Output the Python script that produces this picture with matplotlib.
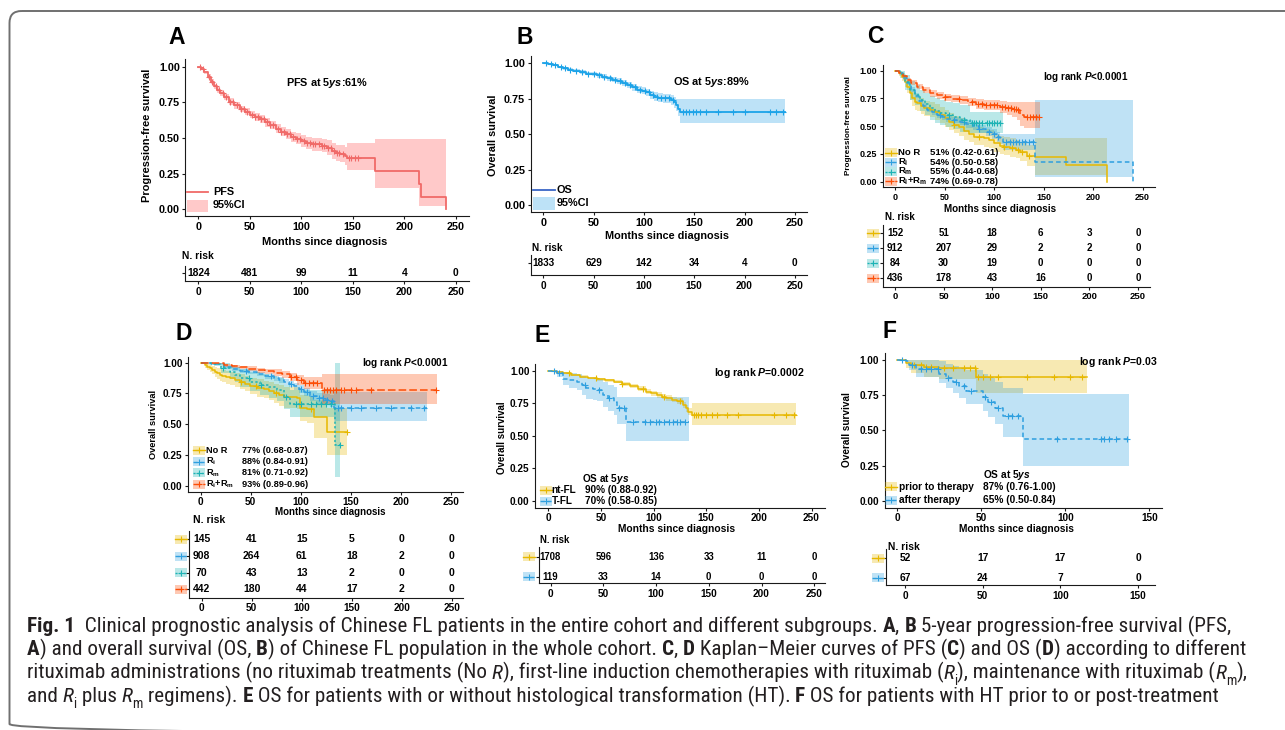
import numpy as np
import matplotlib
matplotlib.use('Agg')
import matplotlib.pyplot as plt
import matplotlib.transforms as mtransforms
from matplotlib import font_manager
from matplotlib.patches import Rectangle, FancyBboxPatch
from matplotlib.lines import Line2D

plt.rcParams['font.family'] = ['Liberation Sans', 'DejaVu Sans']
plt.rcParams['font.weight'] = 'bold'
plt.rcParams['mathtext.fontset'] = 'custom'
plt.rcParams['mathtext.rm'] = 'Liberation Sans:bold'
plt.rcParams['mathtext.it'] = 'Liberation Sans:italic:bold'
plt.rcParams['mathtext.bf'] = 'Liberation Sans:bold'

# ── data ──────────────────────────────────────────────────────────────────────

Y_TICKS = [0.0, 0.25, 0.5, 0.75, 1.0]

# A: PFS, whole cohort
A_t = [0, 3, 6, 9, 12, 15, 18, 21, 25, 30, 35, 40, 45, 50, 55, 60, 65, 70, 75, 80,
       85, 90, 95, 100, 105, 110, 115, 120, 125, 130, 134, 138, 142, 144, 172, 214, 216, 240]
A_s = [1.000, 0.985, 0.960, 0.930, 0.895, 0.862, 0.835, 0.812, 0.785, 0.755, 0.728, 0.703,
       0.683, 0.664, 0.648, 0.630, 0.610, 0.590, 0.565, 0.545, 0.525, 0.508, 0.495, 0.480,
       0.462, 0.455, 0.455, 0.447, 0.432, 0.410, 0.393, 0.390, 0.375, 0.357, 0.265, 0.178,
       0.089, 0.000]
A_hi = [1.000, 0.992, 0.972, 0.945, 0.912, 0.880, 0.855, 0.832, 0.806, 0.777, 0.751, 0.727,
        0.708, 0.690, 0.675, 0.658, 0.640, 0.620, 0.597, 0.578, 0.560, 0.545, 0.533, 0.520,
        0.505, 0.500, 0.500, 0.495, 0.483, 0.465, 0.452, 0.452, 0.440, 0.463, 0.493, 0.493,
        0.493, 0.493]
A_lo = [1.000, 0.978, 0.948, 0.915, 0.878, 0.844, 0.815, 0.792, 0.764, 0.733, 0.705, 0.679,
        0.658, 0.638, 0.621, 0.602, 0.580, 0.560, 0.533, 0.512, 0.490, 0.471, 0.457, 0.440,
        0.420, 0.410, 0.410, 0.400, 0.380, 0.355, 0.335, 0.330, 0.310, 0.276, 0.147, 0.020,
        0.020, 0.020]
A_cens = [2, 5, 10, 13, 17, 20, 24, 27, 31, 34, 38, 41, 44, 47, 52, 55, 58, 61, 64, 67, 70,
          73, 77, 80, 83, 86, 89, 92, 96, 99, 103, 106, 108, 111, 113, 117, 120, 122, 126,
          129, 132, 135, 137, 140, 146, 148, 152, 155]
A_risk = [1824, 481, 99, 11, 4, 0]

# B: OS, whole cohort
B_t = [0, 5, 10, 15, 20, 25, 30, 36, 42, 48, 53, 58, 63, 68, 73, 78, 83, 88, 93, 98, 102,
       106, 110, 114, 119, 124, 127, 130, 132, 134, 136, 240]
B_s = [1.000, 0.995, 0.985, 0.975, 0.965, 0.955, 0.948, 0.938, 0.928, 0.922, 0.914, 0.905,
       0.895, 0.885, 0.873, 0.862, 0.848, 0.830, 0.815, 0.808, 0.795, 0.778, 0.765, 0.758,
       0.752, 0.752, 0.742, 0.725, 0.705, 0.680, 0.655, 0.655]
B_hi = [1.000, 1.000, 0.992, 0.984, 0.975, 0.966, 0.960, 0.951, 0.942, 0.937, 0.930, 0.922,
        0.913, 0.904, 0.893, 0.883, 0.870, 0.853, 0.840, 0.834, 0.822, 0.806, 0.795, 0.788,
        0.784, 0.786, 0.778, 0.762, 0.746, 0.746, 0.746, 0.746]
B_lo = [1.000, 0.990, 0.978, 0.966, 0.955, 0.944, 0.936, 0.925, 0.914, 0.907, 0.898, 0.888,
        0.877, 0.866, 0.853, 0.841, 0.826, 0.807, 0.790, 0.782, 0.768, 0.750, 0.735, 0.728,
        0.720, 0.718, 0.706, 0.688, 0.665, 0.630, 0.576, 0.576]
B_cens = [3, 8, 12, 18, 22, 27, 33, 38, 44, 50, 55, 60, 66, 71, 76, 81, 86, 91, 96, 101, 105,
          109, 113, 117, 121, 125, 129, 139, 142, 145, 149, 152, 156, 162, 174, 189, 200,
          225, 231, 238]
B_risk = [1833, 629, 142, 34, 4, 0]

# C: PFS by rituximab administration
C_nor_t = [0, 4, 7, 10, 12, 15, 17, 20, 22, 26, 29, 35, 40, 45, 50, 55, 60, 65, 70, 75, 80,
           90, 95, 100, 106, 110, 116, 122, 126, 133, 141, 173, 214]
C_nor_s = [1.0, 0.975, 0.946, 0.90, 0.856, 0.80, 0.75, 0.72, 0.706, 0.68, 0.66, 0.65, 0.625,
           0.60, 0.57, 0.54, 0.515, 0.49, 0.455, 0.43, 0.405, 0.39, 0.38, 0.345, 0.325, 0.315,
           0.30, 0.29, 0.27, 0.23, 0.225, 0.15, 0.0]
C_nor_hi = [1.0, 1.0, 0.98, 0.95, 0.91, 0.86, 0.82, 0.79, 0.775, 0.75, 0.73, 0.72, 0.70,
            0.675, 0.65, 0.62, 0.595, 0.57, 0.54, 0.515, 0.49, 0.475, 0.465, 0.43, 0.41, 0.40,
            0.39, 0.38, 0.36, 0.33, 0.39, 0.39, 0.39]
C_nor_lo = [1.0, 0.95, 0.91, 0.85, 0.80, 0.74, 0.68, 0.65, 0.635, 0.61, 0.59, 0.58, 0.555,
            0.525, 0.495, 0.465, 0.44, 0.415, 0.38, 0.355, 0.33, 0.315, 0.30, 0.27, 0.25, 0.24,
            0.225, 0.21, 0.19, 0.14, 0.06, 0.06, 0.06]
C_nor_cens = [60, 85, 110, 118, 124, 128, 135]

C_ri_t = [0, 4, 8, 12, 16, 20, 24, 28, 32, 37, 42, 47, 52, 58, 66, 72, 79, 85, 92, 98, 103,
          106, 109, 141, 240]
C_ri_s = [1.0, 0.975, 0.935, 0.886, 0.83, 0.775, 0.725, 0.685, 0.65, 0.625, 0.60, 0.585,
          0.567, 0.555, 0.54, 0.52, 0.50, 0.475, 0.45, 0.43, 0.405, 0.385, 0.36, 0.18, 0.0]
C_ri_hi = [1.0, 0.985, 0.95, 0.905, 0.85, 0.797, 0.748, 0.71, 0.675, 0.65, 0.627, 0.612,
           0.595, 0.584, 0.57, 0.552, 0.535, 0.512, 0.49, 0.473, 0.45, 0.432, 0.43, 0.736, 0.736]
C_ri_lo = [1.0, 0.965, 0.92, 0.868, 0.81, 0.753, 0.702, 0.66, 0.625, 0.60, 0.573, 0.558,
           0.539, 0.526, 0.51, 0.488, 0.465, 0.438, 0.41, 0.387, 0.36, 0.338, 0.29, 0.045, 0.045]
C_ri_cens = [45, 60, 70, 85, 95, 100, 104, 112, 116, 119, 122, 125, 128, 131, 135, 139]

C_rm_t = [0, 5, 10, 15, 20, 25, 30, 35, 40, 45, 52, 59, 66, 76, 109]
C_rm_s = [1.0, 0.97, 0.9, 0.826, 0.78, 0.736, 0.70, 0.66, 0.635, 0.616, 0.60, 0.586, 0.56,
          0.526, 0.526]
C_rm_hi = [1.0, 1.0, 0.96, 0.91, 0.87, 0.83, 0.80, 0.77, 0.75, 0.735, 0.72, 0.71, 0.69, 0.63, 0.63]
C_rm_lo = [1.0, 0.93, 0.83, 0.74, 0.69, 0.64, 0.60, 0.56, 0.53, 0.51, 0.49, 0.475, 0.45,
           0.435, 0.435]
C_rm_cens = [55, 70, 78, 80, 82, 85, 88, 93, 95, 98, 100, 103, 106]

C_rr_t = [0, 4, 8, 12, 16, 22, 28, 35, 42, 49, 57, 66, 74, 82, 90, 99, 106, 113, 118, 123,
          126, 130, 146]
C_rr_s = [1.0, 0.98, 0.95, 0.916, 0.89, 0.856, 0.823, 0.796, 0.777, 0.76, 0.748, 0.736, 0.72,
          0.70, 0.695, 0.69, 0.675, 0.66, 0.652, 0.645, 0.60, 0.586, 0.586]
C_rr_hi = [1.0, 0.99, 0.965, 0.935, 0.912, 0.88, 0.85, 0.825, 0.807, 0.792, 0.782, 0.772,
           0.758, 0.742, 0.74, 0.738, 0.728, 0.72, 0.72, 0.72, 0.72, 0.72, 0.72]
C_rr_lo = [1.0, 0.97, 0.935, 0.897, 0.868, 0.832, 0.796, 0.767, 0.747, 0.728, 0.714, 0.70,
           0.682, 0.658, 0.65, 0.642, 0.622, 0.60, 0.58, 0.56, 0.50, 0.48, 0.48]
C_rr_cens = [50, 65, 78, 84, 88, 92, 96, 100, 103, 108, 111, 114, 117, 120, 122, 124, 133,
             136, 139, 142, 145]

C_labels = ['No R', 'R$_{\\rm i}$', 'R$_{\\rm m}$', 'R$_{\\rm i}$+R$_{\\rm m}$']
C_pct = ['51% (0.42-0.61)', '54% (0.50-0.58)', '55% (0.44-0.68)', '74% (0.69-0.78)']
C_risk = [[152, 51, 18, 6, 3, 0],
          [912, 207, 29, 2, 2, 0],
          [84, 30, 19, 0, 0, 0],
          [436, 178, 43, 16, 0, 0]]

# D: OS by rituximab administration
D_nor_t = [0, 4, 6, 9, 11, 14, 16, 19, 21, 25, 29, 34, 39, 44, 49, 56, 63, 68, 73, 78, 83,
           96, 99, 106, 113, 126, 146]
D_nor_s = [1.0, 0.985, 0.967, 0.955, 0.94, 0.925, 0.913, 0.90, 0.89, 0.88, 0.873, 0.86, 0.846,
           0.83, 0.81, 0.795, 0.783, 0.77, 0.75, 0.735, 0.718, 0.71, 0.63, 0.62, 0.555, 0.44, 0.44]
D_nor_hi = [1.0, 1.0, 0.99, 0.985, 0.975, 0.965, 0.955, 0.945, 0.94, 0.932, 0.926, 0.915,
            0.905, 0.893, 0.877, 0.865, 0.855, 0.845, 0.83, 0.818, 0.805, 0.80, 0.74, 0.73,
            0.70, 0.63, 0.63]
D_nor_lo = [1.0, 0.96, 0.94, 0.925, 0.905, 0.885, 0.87, 0.855, 0.84, 0.83, 0.82, 0.805,
            0.787, 0.77, 0.745, 0.725, 0.71, 0.695, 0.67, 0.65, 0.63, 0.62, 0.53, 0.51, 0.39,
            0.25, 0.25]
D_nor_cens = [40, 55, 75, 110, 146]

D_ri_t = [0, 10, 23, 31, 39, 47, 56, 64, 73, 78, 83, 88, 93, 98, 103, 109, 116, 123, 129, 133, 226]
D_ri_s = [1.0, 0.99, 0.962, 0.948, 0.935, 0.922, 0.908, 0.89, 0.873, 0.86, 0.846, 0.83, 0.81,
          0.787, 0.764, 0.729, 0.71, 0.70, 0.69, 0.63, 0.63]
D_ri_hi = [1.0, 1.0, 0.975, 0.962, 0.95, 0.938, 0.925, 0.91, 0.893, 0.882, 0.87, 0.855, 0.838,
           0.817, 0.797, 0.766, 0.752, 0.745, 0.74, 0.76, 0.76]
D_ri_lo = [1.0, 0.98, 0.948, 0.933, 0.919, 0.905, 0.89, 0.87, 0.851, 0.837, 0.821, 0.804,
           0.782, 0.757, 0.731, 0.69, 0.668, 0.655, 0.64, 0.525, 0.525]
D_ri_cens = [45, 70, 90, 100, 106, 112, 118, 122, 126, 131, 137, 140, 150, 160, 175, 190, 210, 223]

D_rm_t = [0, 13, 20, 29, 34, 39, 49, 59, 68, 76, 83, 89, 134, 139]
D_rm_s = [1.0, 0.99, 0.96, 0.927, 0.9, 0.873, 0.846, 0.818, 0.8, 0.778, 0.718, 0.664, 0.33, 0.33]
D_rm_hi = [1.0, 1.0, 1.0, 0.98, 0.965, 0.945, 0.925, 0.905, 0.89, 0.875, 0.82, 0.78, 1.0, 1.0]
D_rm_lo = [1.0, 0.97, 0.92, 0.87, 0.84, 0.80, 0.77, 0.735, 0.71, 0.685, 0.62, 0.56, 0.07, 0.07]
D_rm_cens = [22, 48, 60, 85, 95, 100, 110, 115, 120, 125, 130, 139]

D_rr_t = [0, 10, 23, 31, 39, 47, 56, 64, 73, 81, 89, 96, 103, 121, 236]
D_rr_s = [1.0, 0.995, 0.98, 0.97, 0.962, 0.952, 0.94, 0.93, 0.92, 0.905, 0.886, 0.86, 0.837,
          0.778, 0.778]
D_rr_hi = [1.0, 1.0, 0.99, 0.983, 0.977, 0.97, 0.96, 0.952, 0.945, 0.935, 0.92, 0.90, 0.885,
           0.91, 0.91]
D_rr_lo = [1.0, 0.99, 0.968, 0.955, 0.945, 0.932, 0.918, 0.905, 0.893, 0.874, 0.85, 0.818,
           0.788, 0.665, 0.665]
D_rr_cens = [90, 95, 100, 104, 108, 112, 116, 123, 126, 129, 132, 135, 140, 143, 150, 155, 170, 235]

D_pct = ['77% (0.68-0.87)', '88% (0.84-0.91)', '81% (0.71-0.92)', '93% (0.89-0.96)']
D_risk = [[145, 41, 15, 5, 0, 0],
          [908, 264, 61, 18, 2, 0],
          [70, 43, 13, 2, 0, 0],
          [442, 180, 44, 17, 2, 0]]

# E: OS with / without histological transformation
E_nt_t = [0, 7, 14, 22, 30, 38, 46, 54, 62, 70, 78, 85, 93, 98, 103, 108, 112, 117, 122, 128,
          131, 133, 136, 235]
E_nt_s = [1.0, 0.99, 0.98, 0.968, 0.954, 0.944, 0.934, 0.925, 0.916, 0.90, 0.882, 0.862, 0.839,
          0.826, 0.813, 0.80, 0.788, 0.778, 0.77, 0.737, 0.71, 0.685, 0.66, 0.66]
E_nt_hi = [1.0, 0.995, 0.988, 0.977, 0.964, 0.955, 0.946, 0.938, 0.93, 0.915, 0.898, 0.879,
           0.857, 0.845, 0.833, 0.821, 0.81, 0.80, 0.793, 0.762, 0.737, 0.713, 0.755, 0.755]
E_nt_lo = [1.0, 0.985, 0.972, 0.959, 0.944, 0.933, 0.922, 0.912, 0.902, 0.885, 0.866, 0.845,
           0.821, 0.807, 0.793, 0.779, 0.766, 0.756, 0.747, 0.712, 0.683, 0.657, 0.58, 0.58]
E_nt_cens = [20, 45, 70, 90, 110, 125, 138, 140, 142, 145, 150, 155, 160, 170, 180, 214, 226, 233]

E_tf_t = [0, 8, 14, 20, 27, 32, 36, 42, 46, 52, 57, 62, 65, 74, 134]
E_tf_s = [1.0, 0.98, 0.94, 0.93, 0.916, 0.89, 0.864, 0.86, 0.852, 0.813, 0.79, 0.762, 0.71,
          0.609, 0.609]
E_tf_hi = [1.0, 1.0, 0.99, 0.985, 0.975, 0.96, 0.945, 0.94, 0.935, 0.91, 0.89, 0.875, 0.80,
           0.80, 0.80]
E_tf_lo = [1.0, 0.95, 0.89, 0.87, 0.85, 0.815, 0.78, 0.775, 0.765, 0.72, 0.69, 0.66, 0.59,
           0.46, 0.46]
E_tf_cens = [5, 10, 35, 48, 58, 67, 72, 80, 92, 97, 102, 105, 110, 115, 118, 122, 125, 130]

E_labels = ['nt-FL', 'T-FL']
E_pct = ['90% (0.88-0.92)', '70% (0.58-0.85)']
E_risk = [[1708, 596, 136, 33, 11, 0],
          [119, 33, 14, 0, 0, 0]]

# F: OS for HT prior to / after therapy
F_pr_t = [0, 5, 8, 16, 25, 47, 113]
F_pr_s = [1.0, 0.98, 0.962, 0.95, 0.94, 0.88, 0.88]
F_pr_hi = [1.0, 1.0, 1.0, 1.0, 1.0, 1.0, 1.0]
F_pr_lo = [1.0, 0.94, 0.91, 0.88, 0.865, 0.765, 0.765]
F_pr_cens = [10, 14, 17, 20, 28, 33, 40, 43, 46, 48, 51, 55, 60, 77, 93, 103, 110]

F_af_t = [0, 5, 7, 11, 25, 29, 33, 37, 41, 51, 54, 58, 63, 75, 138]
F_af_s = [1.0, 0.99, 0.965, 0.934, 0.90, 0.87, 0.846, 0.815, 0.78, 0.74, 0.70, 0.656, 0.60,
          0.436, 0.436]
F_af_hi = [1.0, 1.0, 1.0, 1.0, 0.99, 0.975, 0.96, 0.945, 0.93, 0.90, 0.875, 0.845, 0.80,
           0.755, 0.755]
F_af_lo = [1.0, 0.97, 0.93, 0.88, 0.84, 0.80, 0.765, 0.73, 0.69, 0.64, 0.595, 0.545, 0.455,
           0.25, 0.25]
F_af_cens = [3, 9, 14, 17, 20, 24, 30, 35, 40, 44, 52, 56, 60, 66, 68, 72, 95, 121, 123, 126,
             130, 137]

F_labels = ['prior to therapy', 'after therapy']
F_pct = ['87% (0.76-1.00)', '65% (0.50-0.84)']
F_risk = [[52, 17, 17, 0],
          [67, 24, 7, 0]]

# ── style ─────────────────────────────────────────────────────────────────────

GOLD, BLUE, TEAL, ORANGE = '#E7B800', '#2E9FDF', '#1DB3B5', '#FC4E07'
PFS_RED, PFS_FILL = '#F06A68', '#FFC9C9'
OS_BLUE, OS_FILL, OS_KEY = '#1CA3E8', '#BDE2F7', '#3A66C6'
LS = ['-', (0, (3, 2)), (0, (1.5, 1.5)), (0, (5, 2))]
INK = '#1a1a1a'
CAP_COLOR = '#231F20'

W, H = 1285, 730
fig = plt.figure(figsize=(W / 100, H / 100), dpi=100)
# pixel coords, origin at the top-left corner
px = mtransforms.Affine2D().scale(1 / W, -1 / H).translate(0, 1) + fig.transFigure


def add_ax(left, right, top, bottom):
    return fig.add_axes([left / W, 1 - bottom / H, (right - left) / W, (bottom - top) / H])


def style_axes(ax, fs):
    for side in ('top', 'right'):
        ax.spines[side].set_visible(False)
    for side in ('left', 'bottom'):
        ax.spines[side].set_linewidth(0.8)
        ax.spines[side].set_color(INK)
    ax.tick_params(length=2.5, width=0.8, pad=1.5, labelsize=fs, color=INK)
    ax.patch.set_alpha(0)


def km_axes(px0, sx, py0, sy, rng, fs):
    ax = add_ax(px0 - 0.05 * rng * sx, px0 + 1.05 * rng * sx, py0 - 1.05 * sy, py0 + 0.05 * sy)
    ax.set_xlim(-0.05 * rng, 1.05 * rng)
    ax.set_ylim(-0.05, 1.05)
    ax.set_xticks(np.arange(0, rng + 1, 50))
    ax.set_yticks(Y_TICKS)
    ax.set_yticklabels([f'{v:.2f}' for v in Y_TICKS])
    style_axes(ax, fs)
    return ax


def draw_curve(ax, t, s, lo, hi, cens, color, ls, fill=None, alpha=0.3, lw=1.1):
    t, s = np.asarray(t, float), np.asarray(s, float)
    if fill is None:
        ax.fill_between(t, lo, hi, step='post', color=color, alpha=alpha, lw=0)
    else:
        ax.fill_between(t, lo, hi, step='post', color=fill, lw=0)
    ax.step(t, s, where='post', color=color, lw=lw, ls=ls)
    idx = np.searchsorted(t, cens, side='right') - 1
    ax.plot(cens, s[idx], ls='none', marker='+', ms=4, mew=0.8, color=color)


def draw_key(x, y, color, ls, w=12, h=9):
    fig.add_artist(Rectangle((x, y - h / 2), w, h, transform=px, facecolor=color,
                             alpha=0.3, lw=0))
    fig.add_artist(Line2D([x, x + w], [y, y], transform=px, color=color, lw=1, ls=ls))
    fig.add_artist(Line2D([x + w / 2], [y], transform=px, color=color, marker='+',
                          ms=4, mew=0.8))


def ptext(x, y, s, fs, ha='left', va='center', **kw):
    return fig.text(x, y, s, transform=px, fontsize=fs, ha=ha, va=va, **kw)


def axis_labels(xc, yc, xlab, xfs, ylx, yly, ylab, yfs):
    ptext(xc, yc, xlab, xfs, ha='center')
    ptext(ylx, yly, ylab, yfs, ha='center', rotation=90)


def risk_table(left, right, top, bottom, px0, sx, row0, drow, rng, rows, fs,
               title_xy, keys=None, key_x=None, tick_fs=None):
    ax = add_ax(left, right, top, bottom)
    ax.set_xlim((left - px0) / sx, (right - px0) / sx)
    ax.set_ylim((bottom - row0) / drow, (top - row0) / drow)
    ticks = np.arange(0, rng + 1, 50)
    ax.set_xticks(ticks)
    ax.set_yticks(range(len(rows)))
    ax.set_yticklabels([])
    style_axes(ax, tick_fs or fs)
    for i, vals in enumerate(rows):
        for t, v in zip(ticks, vals):
            ax.text(t, i, str(v), ha='center', va='center', fontsize=fs)
    ptext(title_xy[0], title_xy[1], 'N. risk', fs)
    if keys:
        for i, (c, ls) in enumerate(keys):
            draw_key(key_x, row0 + i * drow, c, ls)
    return ax


def legend_rows(x_key, x_lab, x_pct, y0, dy, labels, pcts, keys, fs):
    for i, (lab, pct, (c, ls)) in enumerate(zip(labels, pcts, keys)):
        y = y0 + i * dy
        draw_key(x_key, y, c, ls)
        ptext(x_lab, y, lab, fs)
        ptext(x_pct, y, pct, fs)


# ── frame ─────────────────────────────────────────────────────────────────────

fig.add_artist(FancyBboxPatch((9.5, 11), 1340, 725, transform=px,
                              boxstyle='round,pad=0,rounding_size=12',
                              facecolor='none', edgecolor='#707070', lw=1.4))

# ── A ─────────────────────────────────────────────────────────────────────────

axA = km_axes(198.3, 1.03, 209.3, 142.7, 250, 7.8)
draw_curve(axA, A_t, A_s, A_lo, A_hi, A_cens, PFS_RED, '-', fill=PFS_FILL, lw=1.3)
ptext(177, 38, 'A', 16.5, ha='center')
ptext(326.7, 83.3, 'PFS at 5$\\mathit{ys}$:61%', 7.8, ha='center')
fig.add_artist(Line2D([187, 208], [191.7, 191.7], transform=px, color=PFS_RED, lw=1.3))
fig.add_artist(Rectangle((187, 199.5), 21, 12, transform=px, facecolor=PFS_FILL, lw=0))
ptext(213, 191.7, 'PFS', 7.8)
ptext(213, 205, '95%CI', 7.8)
axis_labels(325, 241.7, 'Months since diagnosis', 7.9, 147.3, 135,
            'Progression-free survival', 7.9)
risk_table(185, 468.7, 266, 281, 198.3, 1.03, 272.7, 15, 250, [A_risk], 7.4, (181.7, 256))

# ── B ─────────────────────────────────────────────────────────────────────────

axB = km_axes(543.3, 1.006, 205, 141.7, 250, 7.8)
draw_curve(axB, B_t, B_s, B_lo, B_hi, B_cens, OS_BLUE, '-', fill=OS_FILL, lw=1.3)
ptext(525, 38, 'B', 16.5, ha='center')
ptext(711.7, 81.7, 'OS at 5$\\mathit{ys}$:89%', 7.8, ha='center')
fig.add_artist(Line2D([533, 555], [190, 190], transform=px, color=OS_KEY, lw=1.3))
fig.add_artist(Rectangle((533, 197), 22, 13, transform=px, facecolor=OS_FILL, lw=0))
ptext(556.7, 190, 'OS', 7.8)
ptext(556.7, 203.3, '95%CI', 7.8)
axis_labels(666.7, 236, 'Months since diagnosis', 7.8, 493.3, 135, 'Overall survival', 7.8)
risk_table(530.7, 807.4, 255, 275, 543.3, 1.006, 262.7, 20, 250, [B_risk], 7.2, (531.7, 247.7))

# ── C ─────────────────────────────────────────────────────────────────────────

keys4 = list(zip([GOLD, BLUE, TEAL, ORANGE], LS))
axC = km_axes(895, 0.99, 181.7, 111, 250, 6.5)
C_groups = [(C_nor_t, C_nor_s, C_nor_lo, C_nor_hi, C_nor_cens),
            (C_ri_t, C_ri_s, C_ri_lo, C_ri_hi, C_ri_cens),
            (C_rm_t, C_rm_s, C_rm_lo, C_rm_hi, C_rm_cens),
            (C_rr_t, C_rr_s, C_rr_lo, C_rr_hi, C_rr_cens)]
for (t, s, lo, hi, ce), (c, ls) in zip(C_groups, keys4):
    draw_curve(axC, t, s, lo, hi, ce, c, ls)
ptext(875, 36.7, 'C', 16.5, ha='center')
ptext(1128, 76.7, 'log rank $\\mathit{P}$<0.0001', 7.1, ha='right')
legend_rows(885, 898.5, 930, 152.5, 9.6, C_labels, C_pct, keys4, 6.8)
axis_labels(1000, 209.3, 'Months since diagnosis', 7.1, 848.3, 126,
            'Progression-free survival', 5.9)
risk_table(882.7, 1150, 225, 286.7, 895, 0.972, 233.3, 15, 250, C_risk, 7.0, (885, 216.7),
           keys=keys4, key_x=866.5, tick_fs=6.8)

# ── D ─────────────────────────────────────────────────────────────────────────

axD = km_axes(200.7, 1.0, 485.7, 123, 250, 7.2)
D_groups = [(D_nor_t, D_nor_s, D_nor_lo, D_nor_hi, D_nor_cens),
            (D_ri_t, D_ri_s, D_ri_lo, D_ri_hi, D_ri_cens),
            (D_rm_t, D_rm_s, D_rm_lo, D_rm_hi, D_rm_cens),
            (D_rr_t, D_rr_s, D_rr_lo, D_rr_hi, D_rr_cens)]
for (t, s, lo, hi, ce), (c, ls) in zip(D_groups, keys4):
    draw_curve(axD, t, s, lo, hi, ce, c, ls)
ptext(183.3, 333.3, 'D', 16.5, ha='center')
ptext(448.3, 362.7, 'log rank $\\mathit{P}$<0.0001', 7.2, ha='right')
legend_rows(192.5, 206, 241.7, 450.3, 11.3, C_labels, D_pct, keys4, 6.6)
axis_labels(330, 511.7, 'Months since diagnosis', 7.0, 154, 424, 'Overall survival', 6.7)
risk_table(189.3, 463.2, 531, 597.6, 201.7, 1.0, 539.3, 16.7, 250, D_risk, 7.5, (193.3, 520),
           keys=keys4, key_x=175, tick_fs=7.2)

# ── E ─────────────────────────────────────────────────────────────────────────

keys2 = [(GOLD, LS[0]), (BLUE, LS[1])]
axE = km_axes(548.3, 1.053, 501, 130.3, 250, 7.2)
draw_curve(axE, E_nt_t, E_nt_s, E_nt_lo, E_nt_hi, E_nt_cens, GOLD, LS[0])
draw_curve(axE, E_tf_t, E_tf_s, E_tf_lo, E_tf_hi, E_tf_cens, BLUE, LS[1])
ptext(541.7, 335, 'E', 16.5, ha='center')
ptext(805, 372.7, 'log rank $\\mathit{P}$=0.0002', 7.6, ha='right')
ptext(581.7, 479.3, 'OS at 5$\\mathit{ys}$', 7.2)
legend_rows(539.5, 551.7, 585, 490.3, 11, E_labels, E_pct, keys2, 7.2)
axis_labels(676.7, 529, 'Months since diagnosis', 7.4, 501.7, 438, 'Overall survival', 7.0)
risk_table(539.3, 824.8, 547, 583, 550.5, 1.055, 556.7, 20, 250, E_risk, 6.9, (540, 540),
           keys=keys2, key_x=523, tick_fs=7.2)

# ── F ─────────────────────────────────────────────────────────────────────────

axF = km_axes(897.3, 1.68, 500.7, 140.7, 150, 7.2)
draw_curve(axF, F_pr_t, F_pr_s, F_pr_lo, F_pr_hi, F_pr_cens, GOLD, LS[0])
draw_curve(axF, F_af_t, F_af_s, F_af_lo, F_af_hi, F_af_cens, BLUE, LS[1])
ptext(890, 331.7, 'F', 16.5, ha='center')
ptext(1158.3, 361.7, 'log rank $\\mathit{P}$=0.03', 7.6, ha='right')
ptext(983.3, 475, 'OS at 5$\\mathit{ys}$', 7.3)
legend_rows(885, 899, 983.3, 486.7, 13.3, F_labels, F_pct, keys2, 7.3)
axis_labels(1016.7, 529, 'Months since diagnosis', 7.3, 847.3, 430, 'Overall survival', 7.2)
risk_table(885.7, 1155, 549, 585, 905, 1.553, 558.3, 19.4, 150, F_risk, 7.4, (888.3, 547.3),
           keys=keys2, key_x=871.5, tick_fs=7.2)

# ── caption ───────────────────────────────────────────────────────────────────

_fonts = font_manager.fontManager.ttflist
_names = {f.name for f in _fonts}
CAP_STRETCH = 'normal'
if 'Liberation Sans Narrow' in _names:
    CAP_FAMILY = ['Liberation Sans Narrow', 'DejaVu Sans']
elif 'Roboto Condensed' in _names:
    CAP_FAMILY = ['Roboto Condensed', 'DejaVu Sans']
elif any(f.name == 'DejaVu Sans' and f.stretch == 'condensed' for f in _fonts):
    CAP_FAMILY = ['DejaVu Sans']
    CAP_STRETCH = 'condensed'
else:
    CAP_FAMILY = ['Roboto', 'DejaVu Sans']

caption = [
    [('Fig. 1', 'b'), ('  Clinical prognostic analysis of Chinese FL patients in the entire '
                       'cohort and different subgroups. ', 'r'), ('A', 'b'), (', ', 'r'),
     ('B', 'b'), (' 5-year progression-free survival (PFS,', 'r')],
    [('A', 'b'), (') and overall survival (OS, ', 'r'), ('B', 'b'),
     (') of Chinese FL population in the whole cohort. ', 'r'), ('C', 'b'), (', ', 'r'),
     ('D', 'b'), (' Kaplan\u2013Meier curves of PFS (', 'r'), ('C', 'b'), (') and OS (', 'r'),
     ('D', 'b'), (') according to different', 'r')],
    [('rituximab administrations (no rituximab treatments (No ', 'r'), ('R', 'i'),
     ('), first-line induction chemotherapies with rituximab (', 'r'), ('R', 'i'),
     ('i', 'sub'), ('), maintenance with rituximab (', 'r'), ('R', 'i'), ('m', 'sub'),
     ('),', 'r')],
    [('and ', 'r'), ('R', 'i'), ('i', 'sub'), (' plus ', 'r'), ('R', 'i'), ('m', 'sub'),
     (' regimens). ', 'r'), ('E', 'b'),
     (' OS for patients with or without histological transformation (HT). ', 'r'),
     ('F', 'b'), (' OS for patients with HT prior to or post-treatment', 'r')],
]

renderer = fig.canvas.get_renderer()


def run_kw(style, size):
    kw = dict(family=CAP_FAMILY, stretch=CAP_STRETCH, color=CAP_COLOR, fontsize=size,
              fontweight='normal', transform=px, ha='left', va='baseline')
    if style == 'b':
        kw['fontweight'] = 'bold'
    elif style == 'i':
        kw['fontstyle'] = 'italic'
    elif style == 'sub':
        kw['fontsize'] = size * 0.65
    return kw


def run_width(s, kw):
    t = fig.text(0, 0, '|' + s + '|', **kw)
    w1 = t.get_window_extent(renderer).width
    t.set_text('||')
    w0 = t.get_window_extent(renderer).width
    t.remove()
    return w1 - w0


def line_width(runs, size):
    return sum(run_width(s, run_kw(st, size)) for s, st in runs)


cap_size = 12.0 * 1205 / line_width(caption[0], 12.0)
for k, runs in enumerate(caption):
    x, y = 27, 632 + k * 23.3
    for s, st in runs:
        kw = run_kw(st, cap_size)
        dy = cap_size * 0.28 * 100 / 72 if st == 'sub' else 0
        fig.text(x, y + dy, s, **kw)
        x += run_width(s, kw)

fig.savefig('out.png', dpi=100)
